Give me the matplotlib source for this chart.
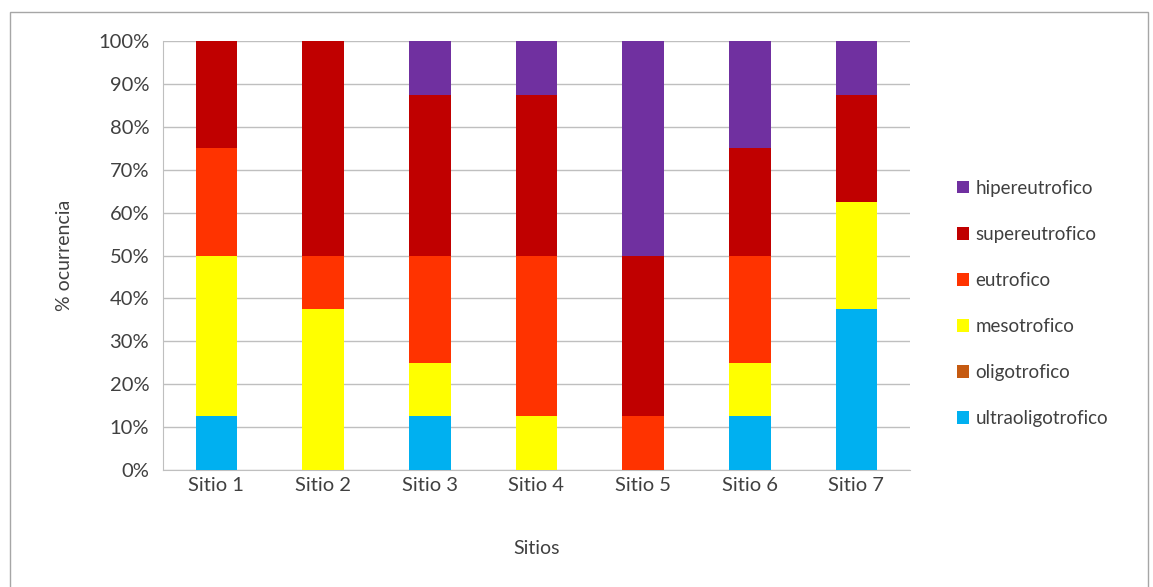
import matplotlib.pyplot as plt
import matplotlib.patches as patches
import numpy as np
from matplotlib.ticker import FuncFormatter

plt.rcParams['font.family'] = ['Lato', 'DejaVu Sans']

sitios = ['Sitio 1', 'Sitio 2', 'Sitio 3', 'Sitio 4', 'Sitio 5', 'Sitio 6', 'Sitio 7']
ultraoligotrofico = [12.5, 0, 12.5, 0, 0, 12.5, 37.5]
oligotrofico = [0, 0, 0, 0, 0, 0, 0]
mesotrofico = [37.5, 37.5, 12.5, 12.5, 0, 12.5, 25]
eutrofico = [25, 12.5, 25, 37.5, 12.5, 25, 0]
supereutrofico = [25, 50, 37.5, 37.5, 37.5, 25, 25]
hipereutrofico = [0, 0, 12.5, 12.5, 50, 25, 12.5]

series = [
    ('ultraoligotrofico', ultraoligotrofico, '#00B0F0'),
    ('oligotrofico', oligotrofico, '#C55A11'),
    ('mesotrofico', mesotrofico, '#FFFF00'),
    ('eutrofico', eutrofico, '#FF3300'),
    ('supereutrofico', supereutrofico, '#C00000'),
    ('hipereutrofico', hipereutrofico, '#7030A0'),
]

fig = plt.figure(figsize=(11.53, 5.87), dpi=100)
ax = fig.add_axes([0.1414, 0.1993, 0.6476, 0.7307])

x = np.arange(len(sitios))
bottom = np.zeros(len(sitios))
handles = []
for name, vals, color in series:
    bars = ax.bar(x, vals, 0.39, bottom=bottom, color=color, label=name, zorder=3)
    bottom += np.array(vals)
    handles.append(bars)

ax.set_xlim(-0.5, len(sitios) - 0.5)
ax.set_ylim(0, 100)
ax.set_yticks(np.arange(0, 101, 10))
ax.yaxis.set_major_formatter(FuncFormatter(lambda v, p: f'{int(v)}%'))
ax.set_xticks(x)
ax.set_xticklabels(sitios)
ax.grid(axis='y', color='#BFBFBF', linewidth=1, zorder=0)
for s in ['top', 'right']:
    ax.spines[s].set_visible(False)
ax.spines['left'].set_color('#BFBFBF')
ax.spines['bottom'].set_color('#BFBFBF')
ax.tick_params(axis='both', length=0, labelsize=14.5, colors='#404040')
ax.tick_params(axis='y', pad=10)
ax.tick_params(axis='x', pad=5)
ax.set_ylabel('% ocurrencia', fontsize=14, color='#404040', labelpad=18)
ax.set_xlabel('Sitios', fontsize=14, color='#404040', labelpad=33)

fig.legend(handles[::-1], [s[0] for s in series][::-1], loc='center left',
           bbox_to_anchor=(0.815, 0.483), frameon=False, fontsize=13.5,
           labelcolor='#404040', handlelength=0.65, handleheight=0.65,
           handletextpad=0.35, labelspacing=1.55)

border = patches.Rectangle((10 / 1153, -0.05), 1138 / 1153, 1.05 - 12 / 587,
                           transform=fig.transFigure, fill=False,
                           edgecolor='#A6A6A6', linewidth=1)
fig.patches.append(border)

fig.savefig('out.png', dpi=100)
